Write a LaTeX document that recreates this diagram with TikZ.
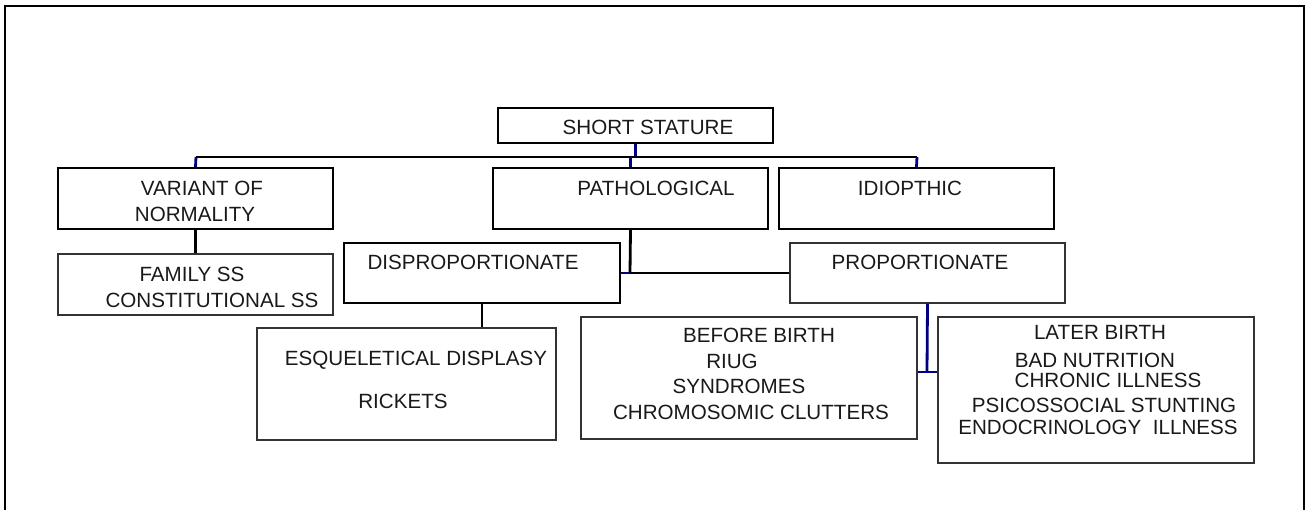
\documentclass[tikz,border=0pt]{standalone}
\usepackage{fontspec}
\setmainfont{Liberation Sans}
\definecolor{navy}{RGB}{0,0,128}
\begin{document}
\begin{tikzpicture}[x=1pt,y=-1pt,
  thickbox/.style={draw=black, line width=2.3pt, inner sep=0pt},
  thinbox/.style={draw=black!80, line width=1.2pt, inner sep=0pt},
  txt/.style={anchor=base, inner sep=0pt, text=black!90, font=\fontsize{20.6}{24}\selectfont},
  conn/.style={draw=black, line width=2.8pt},
  bconn/.style={draw=navy, line width=2.8pt}]
\useasboundingbox (0,0) rectangle (1306,509);
\begin{scope}
  \clip (0,0) rectangle (1306,509);
  \draw[line width=2.4pt] (5,520) -- (5,6) -- (1304,6) -- (1304,520);
\end{scope}

% boxes
\node[thickbox, minimum width=275pt, minimum height=35pt] (ss) at (635.5,125.5) {};
\node[thickbox, minimum width=275pt, minimum height=61pt] (var) at (195.5,198.5) {};
\node[thickbox, minimum width=275pt, minimum height=61pt] (path) at (630.5,198.5) {};
\node[thickbox, minimum width=275pt, minimum height=61pt] (idio) at (916.5,198.5) {};
\node[thinbox, minimum width=275pt, minimum height=61pt] (fam) at (195.5,284.5) {};
\node[thickbox, minimum width=276pt, minimum height=60pt] (dis) at (482,273) {};
\node[thinbox, minimum width=275pt, minimum height=60pt] (prop) at (927.5,273) {};
\node[thinbox, minimum width=299pt, minimum height=112pt] (esq) at (406.5,384) {};
\node[thinbox, minimum width=336pt, minimum height=122pt] (bef) at (749,378) {};
\node[thinbox, minimum width=316pt, minimum height=146pt] (lat) at (1096,390) {};

% texts
\node[txt] (ss-t) at (648,134) {SHORT STATURE};
\node[txt] (var-t1) at (202,195) {VARIANT OF};
\node[txt] (var-t2) at (195,221) {NORMALITY};
\node[txt] (path-t) at (656,195) {PATHOLOGICAL};
\node[txt] (idio-t) at (910,195) {IDIOPTHIC};
\node[txt] (fam-t1) at (192,281) {FAMILY SS};
\node[txt] (fam-t2) at (212,307) {CONSTITUTIONAL SS};
\node[txt] (dis-t) at (473,269) {DISPROPORTIONATE};
\node[txt] (prop-t) at (920,269) {PROPORTIONATE};
\node[txt] (esq-t1) at (416,365) {ESQUELETICAL DISPLASY};
\node[txt] (esq-t2) at (403,408) {RICKETS};
\node[txt] (bef-t1) at (759,342) {BEFORE BIRTH};
\node[txt] (bef-t2) at (732,368) {RIUG};
\node[txt] (bef-t3) at (739,393) {SYNDROMES};
\node[txt] (bef-t4) at (751,419) {CHROMOSOMIC CLUTTERS};
\node[txt] (lat-t1) at (1100,339) {LATER BIRTH};
\node[txt] (lat-t2) at (1095,367) {BAD NUTRITION};
\node[txt] (lat-t3) at (1108,387) {CHRONIC ILLNESS};
\node[txt] (lat-t4) at (1104,412) {PSICOSSOCIAL STUNTING};
\node[txt] (lat-t5) at (1098,434) {ENDOCRINOLOGY\ \ ILLNESS};

% connectors
\coordinate (busL) at (196,157);
\coordinate (busR) at (917,157);
\coordinate (pj) at (630,273);
\coordinate (qj) at (927,372);
\draw[bconn] (ss.south) -- (ss.south |- busL);
\draw[conn] (busL) -- (busR);
\draw[bconn] (path.north |- busL) -- (path.north);
\draw[bconn] (busL) -- (var.north);
\draw[bconn] (busR) -- (idio.north);
\draw[conn] (var.south) -- (fam.north);
\draw[conn] (path.south) -- (pj);
\draw[conn] (pj) -- (prop.west);
\draw[bconn] (dis.east) -- (pj);
\draw[conn] (dis.south) -- (dis.south |- esq.north);
\draw[bconn] (prop.south) -- (qj);
\draw[bconn] (bef.east |- qj) -- (lat.west |- qj);
\end{tikzpicture}
\end{document}
